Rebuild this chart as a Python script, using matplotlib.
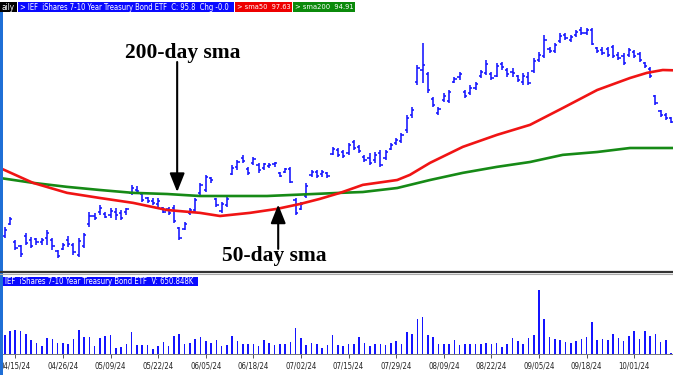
import numpy as np
import matplotlib.pyplot as plt
import matplotlib.font_manager as fm
from matplotlib.patches import Rectangle

# -----------------------------
# DATA: IEF daily bars, 04/11/24 .. 10/10/24
# -----------------------------

opens = [91.83, 92.25, 91.62, 91.48, 91.83, 91.69, 91.73, 91.62, 91.76, 91.69,
         91.31, 91.38, 91.69, 91.52, 91.17, 91.48, 92.25, 92.53, 92.67, 92.60,
         92.57, 92.67, 92.64, 92.67, 93.34, 93.44, 93.30, 93.16, 93.06, 92.95,
         92.81, 92.78, 92.81, 92.11, 92.08, 92.64, 92.74, 93.34, 93.44, 93.86,
         93.13, 92.71, 92.92, 94.00, 94.25, 94.56, 94.18, 94.39, 94.32, 94.21,
         94.28, 94.35, 94.04, 94.07, 94.18, 93.09, 92.78, 93.23, 93.97, 94.07,
         94.00, 94.04, 94.70, 94.84, 94.77, 94.74, 95.12, 94.95, 94.60, 94.56,
         94.49, 94.74, 94.56, 94.88, 95.09, 95.16, 95.54, 96.07, 97.22, 97.64,
         97.50, 96.63, 96.14, 96.59, 96.56, 97.22, 97.40, 96.87, 96.84, 97.01,
         97.43, 97.54, 97.50, 97.43, 97.85, 97.64, 97.57, 97.43, 97.22, 97.40,
         97.61, 97.99, 98.13, 98.38, 98.31, 98.66, 98.87, 98.69, 98.87, 99.04,
         98.94, 99.04, 98.41, 98.34, 98.38, 98.45, 98.17, 98.13, 98.17, 98.27,
         98.20, 97.89, 97.68, 96.73, 96.21, 96.07, 95.96]

highs = [92.15, 92.50, 91.69, 91.52, 91.94, 91.80, 91.76, 91.76, 92.04, 91.76,
         91.34, 91.59, 91.83, 91.59, 91.76, 91.94, 92.67, 92.64, 92.92, 92.67,
         92.81, 92.81, 92.74, 92.81, 93.62, 93.58, 93.34, 93.20, 93.16, 93.16,
         92.85, 92.85, 92.92, 92.15, 92.32, 92.81, 93.16, 93.69, 93.97, 93.90,
         93.16, 93.02, 93.20, 94.32, 94.49, 94.67, 94.25, 94.60, 94.39, 94.39,
         94.39, 94.42, 94.07, 94.21, 94.25, 93.16, 93.02, 93.69, 94.14, 94.14,
         94.14, 94.07, 94.95, 94.91, 94.84, 95.09, 95.19, 95.02, 94.67, 94.74,
         94.77, 94.84, 94.84, 95.09, 95.26, 95.44, 96.07, 96.35, 97.82, 98.59,
         97.57, 96.70, 96.35, 96.84, 96.94, 97.40, 97.57, 96.94, 97.12, 97.22,
         97.64, 97.99, 97.57, 97.89, 97.92, 97.71, 97.71, 97.47, 97.54, 97.57,
         98.06, 98.27, 98.87, 98.45, 98.59, 98.94, 98.94, 98.87, 99.04, 99.15,
         99.11, 99.11, 98.45, 98.45, 98.45, 98.52, 98.27, 98.24, 98.41, 98.34,
         98.27, 97.92, 97.75, 96.77, 96.24, 96.14, 96.00]

lows = [91.76, 92.22, 91.34, 91.10, 91.52, 91.41, 91.52, 91.52, 91.52, 91.34,
        91.06, 91.34, 91.45, 91.17, 91.10, 91.41, 92.15, 92.39, 92.57, 92.46,
        92.46, 92.39, 92.39, 92.57, 93.27, 93.34, 93.02, 92.99, 92.92, 92.85,
        92.64, 92.57, 92.29, 91.69, 92.04, 92.57, 92.64, 93.27, 93.37, 93.69,
        92.85, 92.64, 92.85, 93.97, 94.14, 94.39, 93.97, 94.32, 94.04, 94.14,
        94.21, 94.25, 93.90, 94.04, 93.69, 92.57, 92.74, 93.16, 93.90, 93.86,
        93.90, 93.86, 94.67, 94.60, 94.56, 94.67, 94.84, 94.74, 94.42, 94.32,
        94.39, 94.25, 94.49, 94.84, 95.02, 95.09, 95.44, 95.96, 97.12, 97.19,
        96.84, 96.35, 96.07, 96.52, 96.49, 97.19, 97.29, 96.66, 96.77, 96.94,
        97.36, 97.47, 97.29, 97.40, 97.64, 97.40, 97.40, 97.22, 97.12, 97.12,
        97.54, 97.92, 98.06, 98.24, 98.24, 98.59, 98.69, 98.62, 98.80, 98.87,
        98.87, 98.52, 98.24, 98.17, 98.10, 98.06, 97.99, 97.82, 98.10, 98.06,
        97.92, 97.71, 97.36, 96.42, 96.00, 95.89, 95.79]

closes = [92.04, 92.43, 91.41, 91.20, 91.59, 91.48, 91.62, 91.69, 91.94, 91.48,
          91.13, 91.52, 91.55, 91.27, 91.66, 91.87, 92.53, 92.46, 92.81, 92.50,
          92.71, 92.57, 92.46, 92.78, 93.51, 93.41, 93.09, 93.06, 92.99, 93.06,
          92.67, 92.64, 92.36, 91.76, 92.25, 92.74, 93.09, 93.62, 93.90, 93.79,
          92.92, 92.95, 93.13, 94.21, 94.42, 94.46, 94.04, 94.53, 94.14, 94.35,
          94.32, 94.39, 93.93, 94.18, 93.72, 92.64, 92.95, 93.58, 94.07, 93.93,
          94.07, 93.93, 94.88, 94.67, 94.63, 95.02, 94.91, 94.81, 94.49, 94.39,
          94.67, 94.32, 94.77, 95.02, 95.19, 95.37, 95.96, 96.24, 97.71, 97.82,
          96.94, 96.42, 96.28, 96.73, 96.87, 97.33, 97.50, 96.73, 97.01, 97.15,
          97.57, 97.85, 97.36, 97.78, 97.75, 97.50, 97.54, 97.29, 97.43, 97.19,
          97.96, 98.17, 98.69, 98.31, 98.52, 98.83, 98.76, 98.80, 98.97, 98.94,
          99.04, 98.55, 98.31, 98.24, 98.17, 98.13, 98.06, 97.89, 98.34, 98.13,
          97.99, 97.78, 97.43, 96.49, 96.07, 95.96, 95.82]

# volume in thousands of shares
volume_k = [12800, 15900, 16300, 16100, 14000, 9300, 7700, 5400, 11200, 10000,
            7700, 7500, 7000, 10000, 16800, 11700, 11700, 5400, 11000, 12400,
            12800, 4000, 4900, 7000, 15200, 5800, 5800, 6300, 3500, 5100,
            8200, 5100, 12100, 13500, 6800, 7700, 10500, 11700, 8600, 7700,
            9600, 5400, 5800, 12400, 8600, 7000, 7000, 7000, 5100, 9300,
            7500, 5800, 6500, 6800, 8200, 18200, 11000, 6300, 7200, 7000,
            4200, 5800, 12800, 6300, 5100, 7000, 7000, 11900, 7500, 5400,
            7000, 7000, 6300, 7500, 8600, 6500, 15200, 14000, 24500, 25400,
            12800, 11700, 7000, 7000, 6500, 9300, 6300, 7000, 6800, 6800,
            7000, 7200, 6800, 7200, 4400, 6500, 11000, 8900, 6800, 11200,
            13300, 44800, 24000, 11900, 10500, 9300, 8200, 7200, 9100, 10500,
            11700, 22200, 9600, 10000, 9300, 14000, 11000, 8600, 12400, 15900,
            10500, 15600, 12400, 13500, 8200, 9300, 650.848]

# moving averages (position in bars, value)
sma50_x = [-0.89, 5.35, 11.78, 18.0, 24.25, 30.68, 36.9, 40.7, 46.37, 51.5,
           55.8, 59.6, 63.4, 67.7, 74.2, 76.6, 80.4, 86.6, 93.06, 99.3,
           105.5, 112.0, 118.2, 121.4, 124.4, 126.3]
sma50 = [94.21, 93.69, 93.34, 93.16, 92.99, 92.74, 92.64, 92.53, 92.64, 92.78,
         92.95, 93.13, 93.34, 93.62, 93.79, 93.97, 94.39, 94.95, 95.37, 95.72,
         96.31, 96.94, 97.36, 97.54, 97.64, 97.63]
sma200_x = [-0.89, 5.35, 11.78, 18.0, 24.25, 30.68, 36.9, 49.6, 63.4, 67.7,
            74.2, 80.4, 86.6, 93.06, 99.3, 105.5, 112.0, 118.2, 121.4, 126.3]
sma200 = [93.86, 93.69, 93.55, 93.44, 93.34, 93.30, 93.23, 93.23, 93.34, 93.37,
          93.51, 93.79, 94.04, 94.25, 94.42, 94.67, 94.77, 94.91, 94.91, 94.91]

tick_idx = [2, 11, 20, 29, 38, 47, 56, 65, 74, 83, 92, 101, 110, 119]
tick_labels = ["04/15/24", "04/26/24", "05/09/24", "05/22/24", "06/05/24",
               "06/18/24", "07/02/24", "07/15/24", "07/29/24", "08/09/24",
               "08/22/24", "09/05/24", "09/18/24", "10/01/24"]

# -----------------------------
# FONTS
# -----------------------------


def narrow_font():
    ''' picks a narrow sans font if one is installed '''
    entries = fm.fontManager.ttflist
    for f in entries:
        if f.name in ('Liberation Sans Narrow', 'Arial Narrow'):
            return dict(family=f.name)
    for f in entries:
        if f.name == 'DejaVu Sans' and 'condensed' in str(f.stretch):
            return dict(family='DejaVu Sans', stretch='condensed')
    return dict(family='Liberation Sans')


NARROW = narrow_font()
SERIF = ['Liberation Serif', 'DejaVu Serif']
BAR_BLUE = '#1414ff'

# -----------------------------
# LAYOUT
# -----------------------------

W, H = 673, 375


def box(x0, y0, x1, y1):
    ''' figure rect from pixel coords (top-left origin) '''
    return [x0 / W, 1 - y1 / H, (x1 - x0) / W, (y1 - y0) / H]


fig = plt.figure(figsize=(W / 100, H / 100), dpi=100)
fig.patch.set_facecolor('white')

x = np.arange(len(closes))
xlim = (-0.89, 126.33)

# price panel
ax = fig.add_axes(box(0, 13, W, 271))
ax.set_xlim(*xlim)
ax.set_ylim(90.605, 99.635)
ax.axis('off')

ax.vlines(x, lows, highs, color=BAR_BLUE, lw=1.15)
ax.hlines(opens, x - 0.42, x, color=BAR_BLUE, lw=1.15)
ax.hlines(closes, x, x + 0.42, color=BAR_BLUE, lw=1.15)

ax.plot(sma200_x, sma200, color='#168a16', lw=1.9, solid_joinstyle='round')
ax.plot(sma50_x, sma50, color='#f01414', lw=1.9, solid_joinstyle='round')

arrow = dict(arrowstyle='-|>,head_length=0.95,head_width=0.38',
             mutation_scale=12, lw=1.5, color='black',
             shrinkA=0, shrinkB=0)
ax.annotate('', xy=(32.6, 93.37), xytext=(32.6, 97.92), arrowprops=arrow)
ax.text(33.6, 98.25, '200-day sma', ha='center', va='center',
        fontsize=15.5, fontweight='bold', family=SERIF)
ax.annotate('', xy=(51.7, 92.93), xytext=(51.7, 91.38), arrowprops=arrow)
ax.text(50.9, 91.12, '50-day sma', ha='center', va='center',
        fontsize=15.5, fontweight='bold', family=SERIF)

# volume panel
vax = fig.add_axes(box(0, 276, W, 353.5))
vax.set_xlim(*xlim)
vax.set_ylim(0, 54250)
vax.bar(x, volume_k, width=0.3, color=BAR_BLUE, linewidth=0)
for s in ['top', 'left', 'right']:
    vax.spines[s].set_visible(False)
vax.spines['bottom'].set_color('#777777')
vax.spines['bottom'].set_linewidth(0.7)
vax.set_yticks([])
vax.set_xticks(tick_idx)
vax.set_xticklabels(tick_labels, fontsize=5.6, color='#222222', **NARROW)
vax.tick_params(axis='x', length=3, width=0.7, color='#555555', pad=3)

# decorations (header boxes, separators, left stripe)
deco = fig.add_axes([0, 0, 1, 1], zorder=5)
deco.set_xlim(0, W)
deco.set_ylim(H, 0)
deco.axis('off')
deco.patch.set_alpha(0)

deco.add_patch(Rectangle((0, 12), 2.7, H - 12, color='#1f6fd6', lw=0))
deco.plot([0, W], [272.3, 272.3], color='#333333', lw=1.6)
deco.plot([0, W], [274.2, 274.2], color='#aaaaaa', lw=0.8)

headers = [
    (0, 17, '#000000', 'aily'),
    (18, 234, '#0a0aff', '> IEF  iShares 7-10 Year Treasury Bond ETF  C: 95.8  Chg -0.0'),
    (235, 292, '#ee0000', '> sma50  97.63'),
    (293, 355, '#0b8a0b', '> sma200  94.91'),
]
fit = []
for x0, x1, c, t in headers:
    deco.add_patch(Rectangle((x0, 2), x1 - x0, 10, color=c, lw=0))
    txt = deco.text(x0 + 2, 7.3, t, color='white', fontsize=6,
                    va='center', ha='left', **NARROW)
    fit.append((txt, x1 - x0 - 4))

deco.add_patch(Rectangle((3, 277), 195, 8.5, color='#0a0aff', lw=0))
txt = deco.text(5, 281.5, 'IEF  iShares 7-10 Year Treasury Bond ETF  V: 650.848K',
                color='white', fontsize=6, va='center', ha='left', **NARROW)
fit.append((txt, 190))

# shrink the header texts so they fit their boxes like the original
fig.canvas.draw()
renderer = fig.canvas.get_renderer()
for txt, target in fit:
    w = txt.get_window_extent(renderer).width
    if w > target:
        txt.set_fontsize(txt.get_fontsize() * target / w)

fig.savefig('out.png', dpi=100, facecolor='white')
